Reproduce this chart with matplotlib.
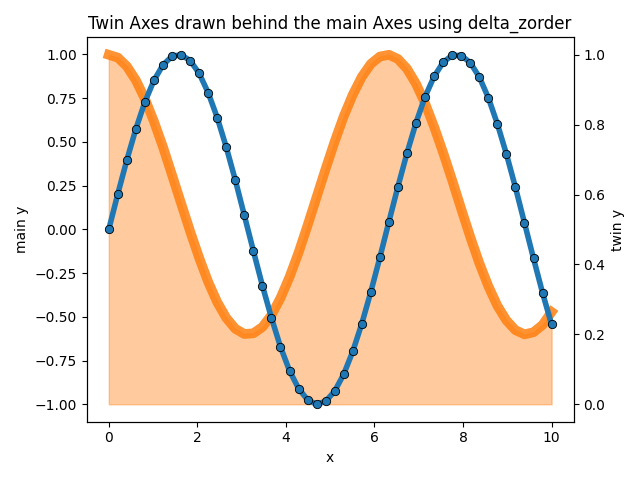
import matplotlib
matplotlib.use("Agg")
import matplotlib.pyplot as plt
import numpy as np

x = np.linspace(0, 10, 50)
main_y = [0.0, 0.203, 0.397, 0.575, 0.729, 0.852, 0.940, 0.990, 0.998, 0.965,
          0.892, 0.781, 0.639, 0.470, 0.282, 0.080, -0.123, -0.322, -0.506, -0.672,
          -0.808, -0.910, -0.975, -1.000, -0.983, -0.925, -0.828, -0.698, -0.539, -0.357,
          -0.160, 0.044, 0.245, 0.436, 0.610, 0.758, 0.874, 0.955, 0.995, 0.994,
          0.953, 0.871, 0.753, 0.603, 0.431, 0.240, 0.037, -0.166, -0.363, -0.544]
twin_y = [1.0, 0.992, 0.967, 0.927, 0.874, 0.809, 0.736, 0.656, 0.575, 0.495,
          0.419, 0.350, 0.292, 0.247, 0.216, 0.201, 0.203, 0.221, 0.255, 0.304,
          0.364, 0.434, 0.512, 0.593, 0.674, 0.752, 0.824, 0.886, 0.937, 0.974,
          0.995, 1.000, 0.988, 0.960, 0.917, 0.861, 0.794, 0.720, 0.641, 0.559,
          0.479, 0.404, 0.338, 0.282, 0.240, 0.212, 0.200, 0.206, 0.227, 0.264]

fig, ax = plt.subplots(figsize=(6.4, 4.8), dpi=100)
ax_twin = ax.twinx()
ax_twin.set_zorder(ax.get_zorder() - 1)
ax.patch.set_visible(False)

ax.plot(x, main_y, "-o", color="C0", lw=4, markersize=6, mec="black", mew=0.6)
ax_twin.plot(x, twin_y, color="C1", lw=7, alpha=0.85)
ax_twin.fill_between(x, twin_y, 0, color="C1", alpha=0.4)

ax.set_xlabel("x")
ax.set_ylabel("main y")
ax_twin.set_ylabel("twin y")
ax.set_title("Twin Axes drawn behind the main Axes using delta_zorder")
fig.tight_layout()
fig.savefig("out.png")
